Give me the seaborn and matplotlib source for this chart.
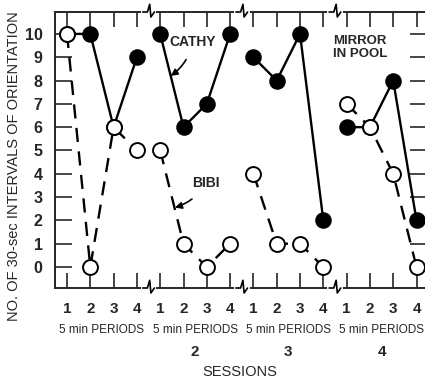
import matplotlib
matplotlib.use("Agg")
import matplotlib.pyplot as plt
import seaborn as sns
import pandas as pd
import numpy as np

# values
sessions = [1, 2, 3, 4]
periods = [1, 2, 3, 4]
cathy = [10, 10, 6, 9,
         10, 6, 7, 10,
         9, 8, 10, 2,
         6, 6, 8, 2]
bibi = [10, 0, 6, 5,
        5, 1, 0, 1,
        4, 1, 1, 0,
        7, 6, 4, 0]
y_ticks = list(range(0, 11))
session_labels = ["", "2", "3", "4"]

rows = []
for i, (c, b) in enumerate(zip(cathy, bibi)):
    s = sessions[i // 4]
    p = periods[i % 4]
    pos = (s - 1) * 4 + p
    rows.append({"pos": pos, "session": s, "period": p, "value": c, "child": "CATHY"})
    rows.append({"pos": pos, "session": s, "period": p, "value": b, "child": "BIBI"})
df = pd.DataFrame(rows)

sns.set_style("ticks")
plt.rcParams["font.family"] = ["Liberation Sans", "DejaVu Sans"]

fig = plt.figure(figsize=(4.25, 3.81), dpi=100)
ax = fig.add_axes([55 / 425, 1 - 288 / 381, 372 / 425, 276 / 381])

cat = df[df.child == "CATHY"]
bib = df[df.child == "BIBI"]

sns.lineplot(data=bib, x="pos", y="value", units="session", estimator=None,
             color="black", lw=1.7, linestyle=(0, (6, 4)), ax=ax, zorder=2)
sns.lineplot(data=cat, x="pos", y="value", units="session", estimator=None,
             color="black", lw=1.7, ax=ax, zorder=2)
sns.scatterplot(data=cat, x="pos", y="value", color="black", s=115,
                edgecolor="black", linewidth=1.2, ax=ax, zorder=3)
sns.scatterplot(data=bib, x="pos", y="value", color="white", s=115,
                edgecolor="black", linewidth=1.4, ax=ax, zorder=4)

ax.set_xlim(0.485, 16.45)
ax.set_ylim(-0.9, 10.94)
ax.set_xlabel("")
ax.set_ylabel("")

ax.set_xticks(df["pos"].unique())
ax.set_xticklabels([str(p) for s in sessions for p in periods])
ax.set_yticks(y_ticks)
ax.set_yticklabels([str(v) for v in y_ticks])
ax.tick_params(axis="x", direction="in", length=11, width=1.2, top=True,
               labelsize=11, pad=10)
ax.tick_params(axis="y", direction="in", length=12, width=1.2, right=True,
               labelsize=11.5, pad=9)
for lab in ax.get_xticklabels() + ax.get_yticklabels():
    lab.set_fontweight("bold")
for sp in ax.spines.values():
    sp.set_linewidth(1.4)
    sp.set_visible(True)

# axis break marks between sessions
trans = ax.get_xaxis_transform()
for xb in [4.5, 8.5, 12.5]:
    for y0 in [1.0, 0.0]:
        ax.plot([xb - 0.25, xb + 0.25], [y0, y0], color="white", lw=3,
                transform=trans, clip_on=False, zorder=5)
        ax.plot([xb - 0.25, xb - 0.05, xb + 0.05, xb + 0.1, xb + 0.25],
                [y0, y0, y0 + 0.028, y0 - 0.018, y0],
                color="black", lw=1.2, transform=trans, clip_on=False, zorder=6)

# labels under the axis
for s in sessions:
    xc = (s - 1) * 4 + 2.5
    ax.text(xc, -0.152, "5 min PERIODS", transform=trans, ha="center",
            va="center", fontsize=8.5)
    ax.text(xc, -0.232, session_labels[s - 1], transform=trans, ha="center",
            va="center", fontsize=11, fontweight="bold")
fig.text(240 / 425, 1 - 372 / 381, "SESSIONS", ha="center", va="center",
         fontsize=10.5)
fig.text(14 / 425, 1 - 166 / 381, "NO. OF 30-sec INTERVALS OF ORIENTATION",
         rotation=90, ha="center", va="center", fontsize=10.5)

ax.annotate("CATHY", xy=(5.45, 8.2), xytext=(6.4, 9.66), ha="center",
            va="center", fontsize=10, fontweight="bold",
            arrowprops=dict(arrowstyle="-|>", color="black", lw=1.2,
                            shrinkA=6, shrinkB=0,
                            connectionstyle="arc3,rad=-0.2"))
ax.annotate("BIBI", xy=(5.63, 2.55), xytext=(6.95, 3.6), ha="center",
            va="center", fontsize=10, fontweight="bold",
            arrowprops=dict(arrowstyle="-|>", color="black", lw=1.2,
                            shrinkA=6, shrinkB=0,
                            connectionstyle="arc3,rad=-0.2"))
ax.text(12.42, 9.95, "MIRROR\nIN POOL", ha="left", va="top", fontsize=9.5,
        fontweight="bold", linespacing=1.05)

fig.savefig("out.png", dpi=100)
